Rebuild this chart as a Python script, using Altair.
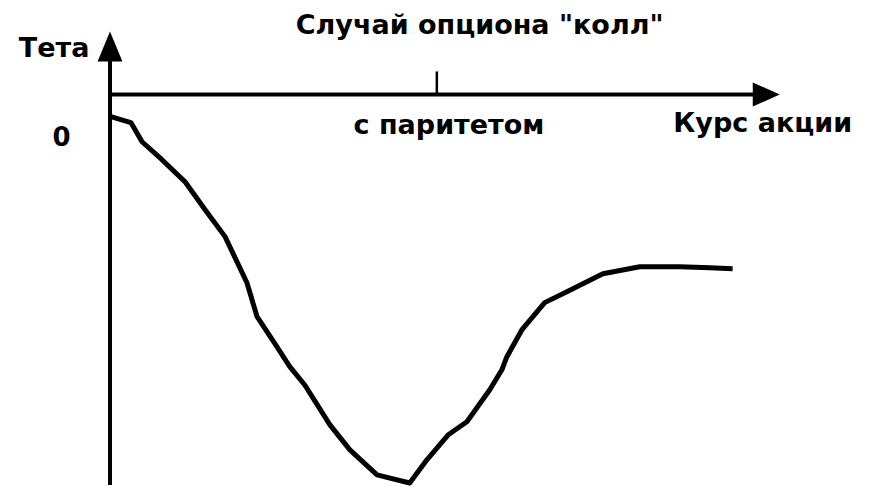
import altair as alt
import pandas as pd

# Curve: stock price (at-the-money = 100) vs theta (arbitrary units, axis at 0)
price = [0, 6.4, 9.8, 15.9, 22.9, 29.1, 35.2, 41.9, 45.0, 51.1, 55.0, 59.6, 67.3, 73.4,
         81.7, 91.7, 96.9, 103.4, 109.2, 116.2, 119.9, 121.4, 126.0, 133.0, 139.8,
         150.8, 162.1, 174.3, 183.5, 190.5]
theta = [-5.6, -7.2, -12.1, -16.7, -22.3, -29.5, -36.4, -48.2, -56.9, -64.6, -69.7,
         -74.4, -84.6, -91.0, -97.4, -99.5, -93.6, -87.2, -83.8, -75.6, -70.5, -67.2,
         -60.3, -53.3, -50.5, -45.9, -44.1, -44.1, -44.4, -44.6]

# Annotation texts
label_text = ["Тета", "0", "Случай опциона \"колл\"", "с паритетом", "Курс акции"]
label_x = [-17.1, -14.8, 113.1, 103.7, 199.7]
label_y = [9.7, -13.3, 15.6, -10.2, -9.7]
label_size = [27, 26, 27, 27, 27]

# Axis geometry (data units)
x_min, x_max = 0, 205
y_min, y_max = -100, 16
atm_price = 100

xs = alt.Scale(domain=[x_min, x_max], nice=False, zero=False)
ys = alt.Scale(domain=[y_min, y_max], nice=False, zero=False)

curve_df = pd.DataFrame({"price": price, "theta": theta, "i": range(len(price))})
labels_df = pd.DataFrame({"x": label_x, "y": label_y, "t": label_text, "s": label_size})

curve = alt.Chart(curve_df).mark_line(color="black", strokeWidth=5, strokeJoin="round").encode(
    x=alt.X("price:Q", scale=xs, axis=None),
    y=alt.Y("theta:Q", scale=ys, axis=None),
    order="i:Q",
)

yaxis = alt.Chart(pd.DataFrame({"x": [0], "y": [y_min], "y2": [10]})).mark_rule(
    color="black", strokeWidth=4).encode(
    x=alt.X("x:Q", scale=xs, axis=None),
    y=alt.Y("y:Q", scale=ys, axis=None), y2="y2:Q")

xaxis = alt.Chart(pd.DataFrame({"x": [0], "x2": [198], "y": [0]})).mark_rule(
    color="black", strokeWidth=4).encode(
    x=alt.X("x:Q", scale=xs, axis=None), x2="x2:Q",
    y=alt.Y("y:Q", scale=ys, axis=None))

tick = alt.Chart(pd.DataFrame({"x": [atm_price], "y": [0], "y2": [5.9]})).mark_rule(
    color="black", strokeWidth=2.5).encode(
    x=alt.X("x:Q", scale=xs, axis=None),
    y=alt.Y("y:Q", scale=ys, axis=None), y2="y2:Q")

arrow_up = alt.Chart(pd.DataFrame({"x": [0], "y": [12.3]})).mark_point(
    shape="M0,-1L0.83,1L-0.83,1Z", size=900, filled=True, color="black",
    opacity=1, strokeWidth=0).encode(
    x=alt.X("x:Q", scale=xs, axis=None), y=alt.Y("y:Q", scale=ys, axis=None))

arrow_right = alt.Chart(pd.DataFrame({"x": [200.8], "y": [0]})).mark_point(
    shape="M1,0L-1,-0.89L-1,0.89Z", size=729, filled=True, color="black",
    opacity=1, strokeWidth=0).encode(
    x=alt.X("x:Q", scale=xs, axis=None), y=alt.Y("y:Q", scale=ys, axis=None))

texts = alt.Chart(labels_df).mark_text(
    font="DejaVu Sans", fontWeight="bold", color="black",
    align="center", baseline="alphabetic").encode(
    x=alt.X("x:Q", scale=xs, axis=None),
    y=alt.Y("y:Q", scale=ys, axis=None),
    text="t:N",
    size=alt.Size("s:Q", scale=None, legend=None))

chart = alt.layer(yaxis, xaxis, tick, arrow_up, arrow_right, curve, texts).properties(
    width=670, height=453,
    padding={"left": 102, "top": 24, "right": 84, "bottom": 11},
    autosize="none",
    background="white",
).configure_view(stroke=None)

chart.save("out.html", embed_options={"renderer": "svg", "actions": False})
